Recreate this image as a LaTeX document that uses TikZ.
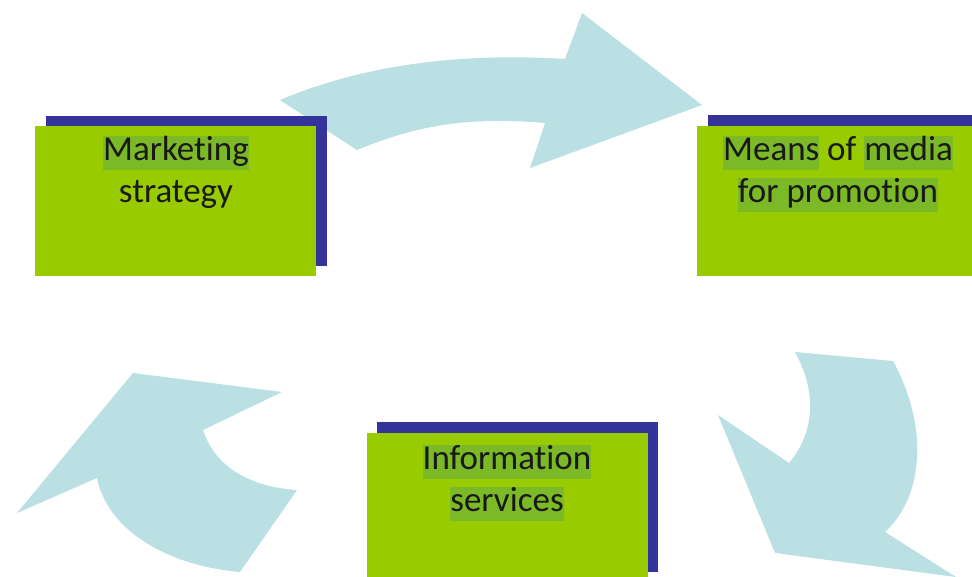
\documentclass[tikz,border=0pt]{standalone}
\usepackage{fontspec}
\setmainfont{Carlito}[Ligatures={NoCommon}]
\definecolor{boxgreen}{RGB}{153,204,0}
\definecolor{shadowblue}{RGB}{51,51,153}
\definecolor{hlgreen}{RGB}{124,185,38}
\definecolor{arrowblue}{RGB}{187,224,227}
\definecolor{txt}{RGB}{25,25,25}
\newcommand\hlword[1]{{\setlength{\fboxsep}{0pt}\colorbox{hlgreen}{\rule[-10pt]{0pt}{34pt}#1}}}
\newcommand\plword[1]{\rule[-10pt]{0pt}{34pt}#1}
\newcommand\nolig{\kern0pt{}}
\tikzset{
  greenbox/.style={fill=boxgreen, draw=none, minimum width=281pt, minimum height=150pt, inner sep=0pt},
  bluebox/.style={fill=shadowblue, draw=none, minimum width=281pt, minimum height=150pt, inner sep=0pt},
  label text/.style={text=txt, align=center, inner sep=0pt, font=\fontsize{35}{42}\selectfont},
  bigarrow/.style={fill=arrowblue, draw=none}
}
\begin{document}
\begin{tikzpicture}[x=1pt,y=-1pt]
\clip (0,0) rectangle (972,576);
\fill[white] (0,0) rectangle (972,576);
% arrows
\fill[bigarrow] (280,100) .. controls (370,62) and (470,53) .. (565,59)
  -- (582,13) -- (702,105) -- (530,168) -- (545,123)
  .. controls (470,117) and (420,124) .. (357,150) -- cycle;
\fill[bigarrow] (795,352) -- (893,361) .. controls (928,425) and (925,495) .. (885,532)
  -- (956,577) -- (775,553) -- (718,415) -- (789,463)
  .. controls (815,432) and (817,392) .. (795,352) -- cycle;
\fill[bigarrow] (133,373) -- (282,392) -- (203,430)
  .. controls (215,467) and (250,487) .. (297,490)
  -- (240,572) .. controls (170,566) and (108,532) .. (97,478)
  -- (17,513) -- cycle;
% boxes
\node[bluebox] (s1) at (186,190.5) {};
\node[greenbox] (b1) at (175.5,201) {};
\node[label text] (t1) at (176,174) {\hlword{Market\nolig ing}\\\plword{strategy}};
\node[bluebox] (s2) at (848.5,190) {};
\node[greenbox] (b2) at (837.5,201) {};
\node[label text] (t2) at (838,174) {\hlword{Means} \plword{of} \hlword{media}\\\hlword{for promot\nolig ion}};
\node[bluebox] (s3) at (517,497) {};
\node[greenbox] (b3) at (507.5,508) {};
\node[label text] (t3) at (507,483) {\hlword{Informat\nolig ion}\\\hlword{services}};
\end{tikzpicture}
\end{document}
